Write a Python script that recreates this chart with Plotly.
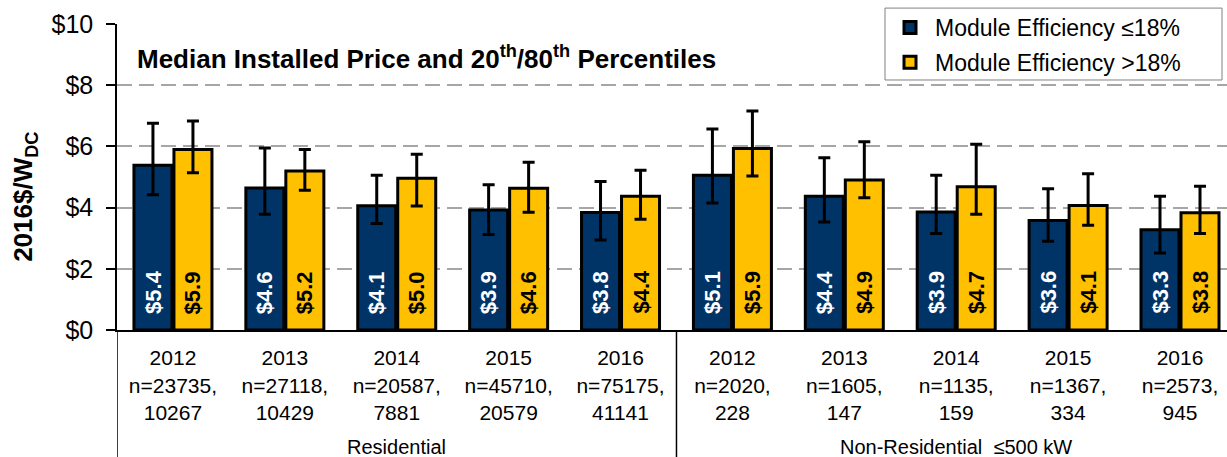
import plotly.graph_objects as go

# ---- data ----
years = ["2012", "2013", "2014", "2015", "2016", "2012", "2013", "2014", "2015", "2016"]
n_low = [23735, 27118, 20587, 45710, 75175, 2020, 1605, 1135, 1367, 2573]
n_high = [10267, 10429, 7881, 20579, 41141, 228, 147, 159, 334, 945]
segments = ["Residential", "Non-Residential  ≤500 kW"]
segment_centers = [2, 7]

median_low = [5.38, 4.64, 4.06, 3.92, 3.84, 5.06, 4.37, 3.86, 3.58, 3.28]
p20_low = [4.42, 3.78, 3.48, 3.12, 2.94, 4.15, 3.53, 3.15, 2.90, 2.52]
p80_low = [6.76, 5.95, 5.06, 4.75, 4.85, 6.57, 5.63, 5.06, 4.62, 4.37]

median_high = [5.90, 5.20, 4.96, 4.63, 4.37, 5.93, 4.90, 4.68, 4.07, 3.83]
p20_high = [5.14, 4.57, 4.05, 3.85, 3.62, 5.03, 4.32, 3.78, 3.42, 3.15]
p80_high = [6.83, 5.90, 5.74, 5.48, 5.22, 7.16, 6.15, 6.07, 5.11, 4.70]

series_names = ["Module Efficiency ≤18%", "Module Efficiency >18%"]
y_ticks = [0, 2, 4, 6, 8, 10]
y_ticktext = ["$" + str(v) for v in y_ticks]

BLUE = "#003366"
YELLOW = "#FFC000"
FONT = "Liberation Sans, Arial, sans-serif"

x = list(range(len(years)))
ticktext = [f"{y}<br>n={a},<br>{b}" for y, a, b in zip(years, n_low, n_high)]

fig = go.Figure()
for name, med, lo, hi, col, grp in [
    (series_names[0], median_low, p20_low, p80_low, BLUE, "a"),
    (series_names[1], median_high, p20_high, p80_high, YELLOW, "b"),
]:
    fig.add_trace(go.Bar(
        x=x, y=med, name=name, legendgroup=grp,
        marker=dict(color=col, line=dict(color="black", width=3)),
        error_y=dict(type="data", symmetric=False,
                     array=[h - m for h, m in zip(hi, med)],
                     arrayminus=[m - l for m, l in zip(med, lo)],
                     color="black", thickness=3, width=6),
    ))

# value labels inside bars at the bottom
for med, shift, col in [(median_low, -20, "white"), (median_high, 20, "black")]:
    for xi, v in zip(x, med):
        fig.add_annotation(x=xi, y=0, xref="x", yref="y", text=f"${v:.1f}",
                           textangle=-90, showarrow=False, xshift=shift,
                           yanchor="bottom", yshift=14,
                           font=dict(family=FONT, size=22, color=col, weight="bold"))

# segment labels
for s, c in zip(segments, segment_centers):
    fig.add_annotation(x=c, y=-0.382, xref="x", yref="paper", text=s, showarrow=False,
                       yanchor="middle", font=dict(family=FONT, size=20, color="black"))

# divider lines under the axis
for xv in [-0.5, 4.5]:
    fig.add_shape(type="line", xref="x", yref="paper", x0=xv, x1=xv, y0=0, y1=-0.42,
                  line=dict(color="black", width=1.5))

# legend frame
fig.add_shape(type="rect", xref="paper", yref="paper", x0=0.6919, x1=0.9955, y0=0.817, y1=1.052,
              fillcolor="white", line=dict(color="#808080", width=1), layer="above")

# title
fig.add_annotation(x=0.0162, y=0.892, xref="paper", yref="paper", xanchor="left", yanchor="middle",
                   text="Median Installed Price and 20<sup>th</sup>/80<sup>th</sup> Percentiles",
                   showarrow=False, font=dict(family=FONT, size=26, color="black", weight="bold"))

# y title
fig.add_annotation(x=-0.0829, y=0.435, xref="paper", yref="paper", xanchor="center", yanchor="middle",
                   text="2016$/W<sub>DC</sub>", textangle=-90, showarrow=False,
                   font=dict(family=FONT, size=26, color="black", weight="bold"))

fig.update_layout(
    width=1227, height=457,
    margin=dict(l=117, r=0, t=24, b=127),
    paper_bgcolor="white", plot_bgcolor="white",
    barmode="group", bargap=0.285, bargroupgap=0.05,
    showlegend=True,
    legend=dict(x=0.6919, y=1.059, xanchor="left", yanchor="top",
                bgcolor="rgba(0,0,0,0)", borderwidth=0,
                font=dict(family=FONT, size=23, color="black"),
                itemwidth=40,
                traceorder="grouped", tracegroupgap=2),
    font=dict(family=FONT, color="black"),
)
fig.update_xaxes(range=[-0.5, 9.42], tickvals=x, ticktext=ticktext, showgrid=False,
                 showline=True, linecolor="black", linewidth=2, ticks="",
                 ticklabelstandoff=8,
                 tickfont=dict(family=FONT, size=21, color="black"), zeroline=False)
fig.update_yaxes(range=[0, 10], tickvals=y_ticks, ticktext=y_ticktext, showgrid=True,
                 gridcolor="#A6A6A6", gridwidth=1.5, griddash="15px,7px",
                 showline=True, linecolor="black", linewidth=1.5,
                 ticks="outside", ticklen=9, tickwidth=1.5, tickcolor="black",
                 ticklabelstandoff=8,
                 tickfont=dict(family=FONT, size=25, color="black"), zeroline=False)

fig.write_html("out.html", config={"displayModeBar": False},
               post_script="document.body.style.margin='0px';document.body.style.padding='0px';")
